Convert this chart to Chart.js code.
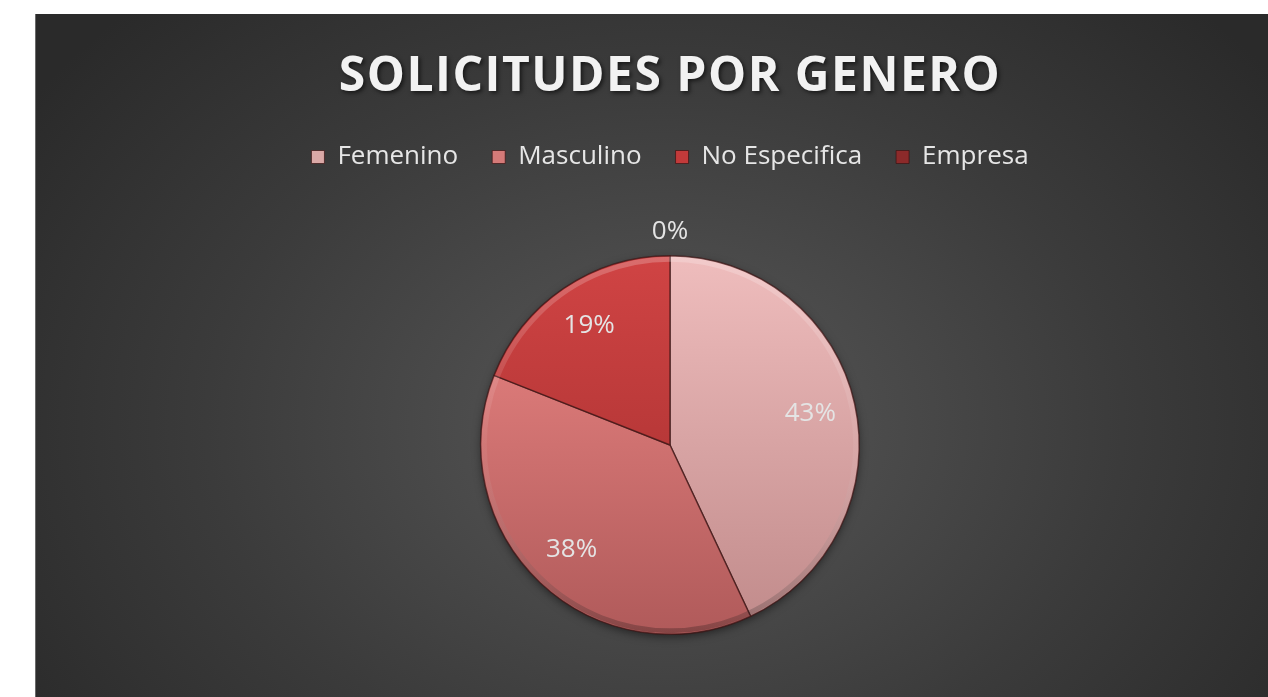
<!DOCTYPE html>
<html>
<head>
<meta charset="utf-8">
<script src="https://cdn.jsdelivr.net/npm/chart.js@4"></script>
<style>
  html, body { margin: 0; padding: 0; background: #ffffff; width: 1268px; height: 697px; overflow: hidden; }
  #wrap {
    position: absolute; left: 35px; top: 14px; width: 1233px; height: 683px;
    background: radial-gradient(ellipse 62% 85% at 51% 60%, #565656 0%, #4c4c4c 25%, #3b3b3b 60%, #2a2a2a 100%);
    border-left: 1px solid #6a6a6a; box-sizing: border-box;
  }
  canvas { position: absolute; left: 0; top: 0; }
</style>
</head>
<body>
<div id="wrap"><canvas id="c" width="1232" height="683"></canvas></div>
<script>
const chartTitle = 'SOLICITUDES POR GENERO';
const categories = ['Femenino', 'Masculino', 'No Especifica', 'Empresa'];
const values = [43, 38, 19, 0];

// styles
const legendColors = ['#dba9a7', '#d57a78', '#c23a3a', '#8c2a2a'];
const topColors = ['#efbdbd', '#ee8886', '#d04444', '#962a2a'];
const bottomColors = ['#c08a8a', '#b05a5a', '#a02c2c', '#7a2020'];

const total = values.reduce((a, b) => a + b, 0);

function sliceGradient(ctx) {
  const chart = ctx.chart;
  const i = ctx.dataIndex;
  const area = chart.chartArea;
  if (!area) return legendColors[i];
  const g = chart.ctx.createLinearGradient(0, area.top, 0, area.bottom);
  g.addColorStop(0, topColors[i]);
  g.addColorStop(1, bottomColors[i]);
  return g;
}

const legendSpacer = {
  id: 'legendSpacer',
  beforeInit(chart) {
    const orig = chart.legend.fit;
    chart.legend.fit = function () {
      orig.call(this);
      this.height += 75;
    };
  }
};

const titlePlugin = {
  id: 'customTitle',
  afterDraw(chart) {
    const ctx = chart.ctx;
    ctx.save();
    ctx.font = 'bold 48px "Open Sans"';
    ctx.letterSpacing = '1.5px';
    ctx.textAlign = 'center';
    ctx.textBaseline = 'middle';
    ctx.shadowColor = 'rgba(0,0,0,0.6)';
    ctx.shadowBlur = 4;
    ctx.shadowOffsetX = 2;
    ctx.shadowOffsetY = 2;
    ctx.fillStyle = '#f2f2f2';
    const cx = (chart.chartArea.left + chart.chartArea.right) / 2;
    ctx.fillText(chartTitle, cx, 63);
    ctx.restore();
  }
};

const pieFx = {
  id: 'pieFx',
  beforeDatasetsDraw(chart) {
    const ctx = chart.ctx;
    ctx.save();
    ctx.shadowColor = 'rgba(0,0,0,0.55)';
    ctx.shadowBlur = 10;
    ctx.shadowOffsetY = 3;
    const a = chart.getDatasetMeta(0).data[0];
    if (a) {
      ctx.beginPath();
      ctx.arc(a.x, a.y, a.outerRadius - 1, 0, Math.PI * 2);
      ctx.fillStyle = '#3a3a3a';
      ctx.fill();
    }
    ctx.restore();
  },
  afterDatasetsDraw(chart) {
    const ctx = chart.ctx;
    const meta = chart.getDatasetMeta(0);
    const a0 = meta.data[0];
    // bevel ring
    ctx.save();
    const g = ctx.createLinearGradient(0, a0.y - a0.outerRadius, 0, a0.y + a0.outerRadius);
    g.addColorStop(0, 'rgba(255,255,255,0.22)');
    g.addColorStop(0.5, 'rgba(255,255,255,0.05)');
    g.addColorStop(1, 'rgba(0,0,0,0.25)');
    ctx.strokeStyle = g;
    ctx.lineWidth = 5;
    ctx.beginPath();
    ctx.arc(a0.x, a0.y, a0.outerRadius - 3.5, 0, Math.PI * 2);
    ctx.stroke();
    ctx.restore();
    // labels
    ctx.save();
    ctx.font = '26px "Open Sans"';
    ctx.fillStyle = '#e4e4e4';
    ctx.textAlign = 'center';
    ctx.textBaseline = 'middle';
    meta.data.forEach((arc, i) => {
      const mid = (arc.startAngle + arc.endAngle) / 2;
      const r = values[i] > 0 ? arc.outerRadius * 0.76 : arc.outerRadius + 24;
      const x = arc.x + Math.cos(mid) * r;
      const y = arc.y + Math.sin(mid) * r;
      const pct = Math.round(values[i] / total * 100) + '%';
      ctx.fillText(pct, x, y);
    });
    ctx.restore();
  }
};

new Chart(document.getElementById('c'), {
  type: 'pie',
  data: {
    labels: categories,
    datasets: [{
      data: values,
      backgroundColor: sliceGradient,
      borderColor: 'rgba(60,20,20,0.7)',
      borderWidth: 1.5
    }]
  },
  options: {
    responsive: false,
    animation: false,
    devicePixelRatio: 1,
    layout: { padding: { top: 96, bottom: 62, left: 36, right: 0 } },
    plugins: {
      title: { display: false },
      tooltip: { enabled: false },
      legend: {
        position: 'top',
        labels: {
          padding: 34,
          boxWidth: 13,
          boxHeight: 13,
          color: '#e6e6e6',
          font: { family: '"Open Sans"', size: 26 },
          generateLabels(chart) {
            return categories.map((c, i) => ({
              text: c,
              fillStyle: legendColors[i],
              strokeStyle: 'rgba(60,20,20,0.7)',
              lineWidth: 1,
              fontColor: '#e6e6e6',
              index: i,
              hidden: false
            }));
          }
        }
      }
    }
  },
  plugins: [legendSpacer, titlePlugin, pieFx]
});
</script>
</body>
</html>
